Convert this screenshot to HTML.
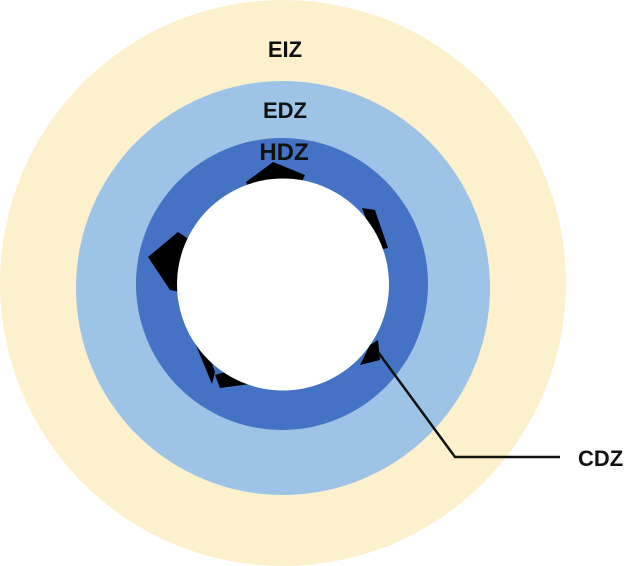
<!DOCTYPE html>
<html><head><style>body{margin:0;background:#fff}svg{display:block}text{font-family:"Liberation Sans",sans-serif;font-weight:bold;fill:#111}</style></head>
<body>
<svg width="639" height="566" viewBox="0 0 639 566">
<circle cx="283" cy="283" r="283" fill="#fdf0cc"/>
<circle cx="283" cy="288" r="207" fill="#9dc3e6"/>
<circle cx="282" cy="284" r="146" fill="#4472c4"/>
<g fill="#000">
<polygon points="246,182 273,162 305,175 300,186 250,190"/>
<polygon points="148,257 178,232 190,240 180,292 170,290"/>
<polygon points="362,208 375,210 388,248 378,250"/>
<polygon points="193,338 200,330 215,372 212,384"/>
<polygon points="215,375 220,388 250,384 232,370"/>
<polygon points="370,345 378,340 380,360 360,365"/>
</g>
<circle cx="283" cy="284.5" r="106" fill="#fff"/>
<polyline points="378,352 455,457 560,457" fill="none" stroke="#111" stroke-width="2.5"/>
<text x="285" y="57" font-size="22" text-anchor="middle">EIZ</text>
<text x="285" y="118" font-size="22" text-anchor="middle">EDZ</text>
<text x="284" y="160" font-size="24" text-anchor="middle">HDZ</text>
<text x="578" y="466" font-size="22">CDZ</text>
</svg>
</body></html>
